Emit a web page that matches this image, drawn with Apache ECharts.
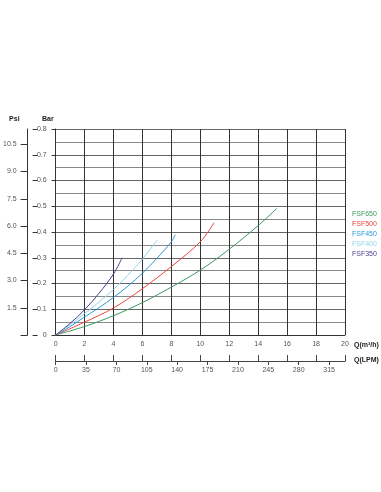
<!DOCTYPE html>
<html>
<head>
<meta charset="utf-8">
<script src="https://cdn.jsdelivr.net/npm/echarts@6/dist/echarts.min.js"></script>
<style>html,body{margin:0;padding:0;background:#fff}#c{width:381px;height:492px}</style>
</head>
<body>
<div id="c"></div>
<script>
// ---- data ----
const seriesNames = ['FSF650', 'FSF500', 'FSF450', 'FSF400', 'FSF350'];
const seriesColors = ['#3c9a5e', '#e8473f', '#2e9ad6', '#94d2ef', '#4b3f8e'];

const fsf650Q   = [0, 2, 4, 6, 8, 10, 12, 14, 15.3];
const fsf650Bar = [0, 0.033, 0.075, 0.126, 0.186, 0.252, 0.333, 0.425, 0.492];

const fsf500Q   = [0, 2, 4, 6, 8, 10, 10.95];
const fsf500Bar = [0, 0.05, 0.105, 0.18, 0.266, 0.362, 0.436];

const fsf450Q   = [0, 1, 2, 3, 4, 5, 6, 7, 8, 8.27];
const fsf450Bar = [0, 0.033, 0.07, 0.106, 0.146, 0.19, 0.24, 0.298, 0.362, 0.39];

const fsf400Q   = [0, 1, 2, 3, 4, 5, 6, 7.02];
const fsf400Bar = [0, 0.04, 0.083, 0.128, 0.177, 0.232, 0.295, 0.369];

const fsf350Q   = [0, 1, 2, 3, 4, 4.6];
const fsf350Bar = [0, 0.045, 0.098, 0.162, 0.237, 0.3];

const qTicks = [0, 2, 4, 6, 8, 10, 12, 14, 16, 18, 20];           // m3/h
const lpmTicks = [0, 35, 70, 105, 140, 175, 210, 245, 280, 315];  // LPM
const psiTicks = [1.5, 3.0, 4.5, 6.0, 7.5, 9.0, 10.5];

const allQ = [fsf650Q, fsf500Q, fsf450Q, fsf400Q, fsf350Q];
const allBar = [fsf650Bar, fsf500Bar, fsf450Bar, fsf400Bar, fsf350Bar];

const zip = (a, b) => a.map((v, i) => [v, b[i]]);

const qMax = qTicks[qTicks.length - 1];
const lpmMax = qMax * 1000 / 60;
const barMax = 0.8;
const psiMax = 11.34;

const font = '"Liberation Sans", Arial, sans-serif';
const labelColor = '#555';

const chart = echarts.init(document.getElementById('c'), null, {renderer: 'canvas'});
chart.setOption({
  animation: false,
  backgroundColor: '#fff',
  textStyle: {fontFamily: font},
  grid: {left: 52, right: 36, top: 129, bottom: 157},
  legend: {
    orient: 'vertical',
    left: 342, top: 204,
    itemWidth: 0, itemHeight: 10, itemGap: 0,
    icon: 'rect',
    selectedMode: false,
    data: seriesNames.map((n, i) => ({name: n, textStyle: {color: seriesColors[i], fontSize: 7, fontFamily: font}}))
  },
  xAxis: [
    {
      type: 'value', min: 0, max: qMax, interval: 2, position: 'bottom',
      name: 'Q(m³/h)', nameLocation: 'end', nameGap: 9,
      nameTextStyle: {fontSize: 7, fontWeight: 'bold', color: '#222', verticalAlign: 'top', padding: [7, 0, 0, 0]},
      axisLine: {show: true, onZero: false, lineStyle: {color: '#333', width: 1}},
      axisTick: {show: false},
      axisLabel: {fontSize: 7, color: labelColor, margin: 6},
      splitLine: {show: true, lineStyle: {color: '#333', width: 1}}
    },
    {
      type: 'value', min: 0, max: lpmMax, interval: 35, position: 'bottom', offset: 26,
      name: 'Q(LPM)', nameLocation: 'end', nameGap: 9,
      nameTextStyle: {fontSize: 7, fontWeight: 'bold', color: '#222', verticalAlign: 'top', padding: [-4, 0, 0, 0]},
      axisLine: {show: true, onZero: false, lineStyle: {color: '#444', width: 1}},
      axisTick: {show: true, length: 4, lineStyle: {color: '#444'}},
      axisLabel: {fontSize: 7, color: labelColor, margin: 6, showMaxLabel: false,
        formatter: v => lpmTicks.indexOf(Math.round(v)) >= 0 ? String(Math.round(v)) : ''},
      splitLine: {show: false}
    },
    {
      type: 'value', min: 0, max: qMax, interval: 2, position: 'bottom', offset: 26,
      axisLine: {show: false, onZero: false},
      axisTick: {show: true, inside: true, length: 6, lineStyle: {color: '#444'}},
      axisLabel: {show: false},
      splitLine: {show: false}
    }
  ],
  yAxis: [
    {
      type: 'value', min: 0, max: barMax, interval: 0.1, position: 'left',
      name: 'Bar', nameLocation: 'end', nameGap: 6,
      nameTextStyle: {fontSize: 7, fontWeight: 'bold', color: '#222', align: 'right', padding: [0, 2, 0, 0]},
      axisLine: {show: true, onZero: false, lineStyle: {color: '#333', width: 1}},
      axisTick: {show: true, length: 4, lineStyle: {color: '#333'}},
      axisLabel: {fontSize: 7, color: labelColor, margin: 9},
      splitLine: {show: true, lineStyle: {color: '#666', width: 1}},
      minorTick: {show: false, splitNumber: 2},
      minorSplitLine: {show: true, lineStyle: {color: '#888', width: 1}}
    },
    {
      type: 'value', min: 0, max: psiMax, interval: 1.5, position: 'left', offset: 28,
      name: 'Psi', nameLocation: 'end', nameGap: 6,
      nameTextStyle: {fontSize: 7, fontWeight: 'bold', color: '#222', align: 'right', padding: [0, 8, 0, 0]},
      axisLine: {show: true, onZero: false, lineStyle: {color: '#333', width: 1}},
      axisTick: {show: true, length: 7, lineStyle: {color: '#333'}},
      axisLabel: {fontSize: 7, color: labelColor, margin: 11, showMaxLabel: false,
        formatter: v => psiTicks.some(t => Math.abs(t - v) < 1e-6) ? v.toFixed(1) : ''},
      splitLine: {show: false}
    },
    {
      type: 'value', min: 0, max: barMax, interval: 0.1, position: 'left', offset: 23,
      axisLine: {show: false, onZero: false},
      axisTick: {show: true, inside: true, length: 5, lineStyle: {color: '#333'}},
      axisLabel: {show: false},
      splitLine: {show: false}
    }
  ],
  series: seriesNames.map((n, i) => ({
    name: n, type: 'line', xAxisIndex: 0, yAxisIndex: 0,
    data: zip(allQ[i], allBar[i]),
    smooth: 0.35, symbol: 'none',
    lineStyle: {color: seriesColors[i], width: 1},
    itemStyle: {color: seriesColors[i]},
    z: 5
  }))
});
</script>
</body>
</html>
